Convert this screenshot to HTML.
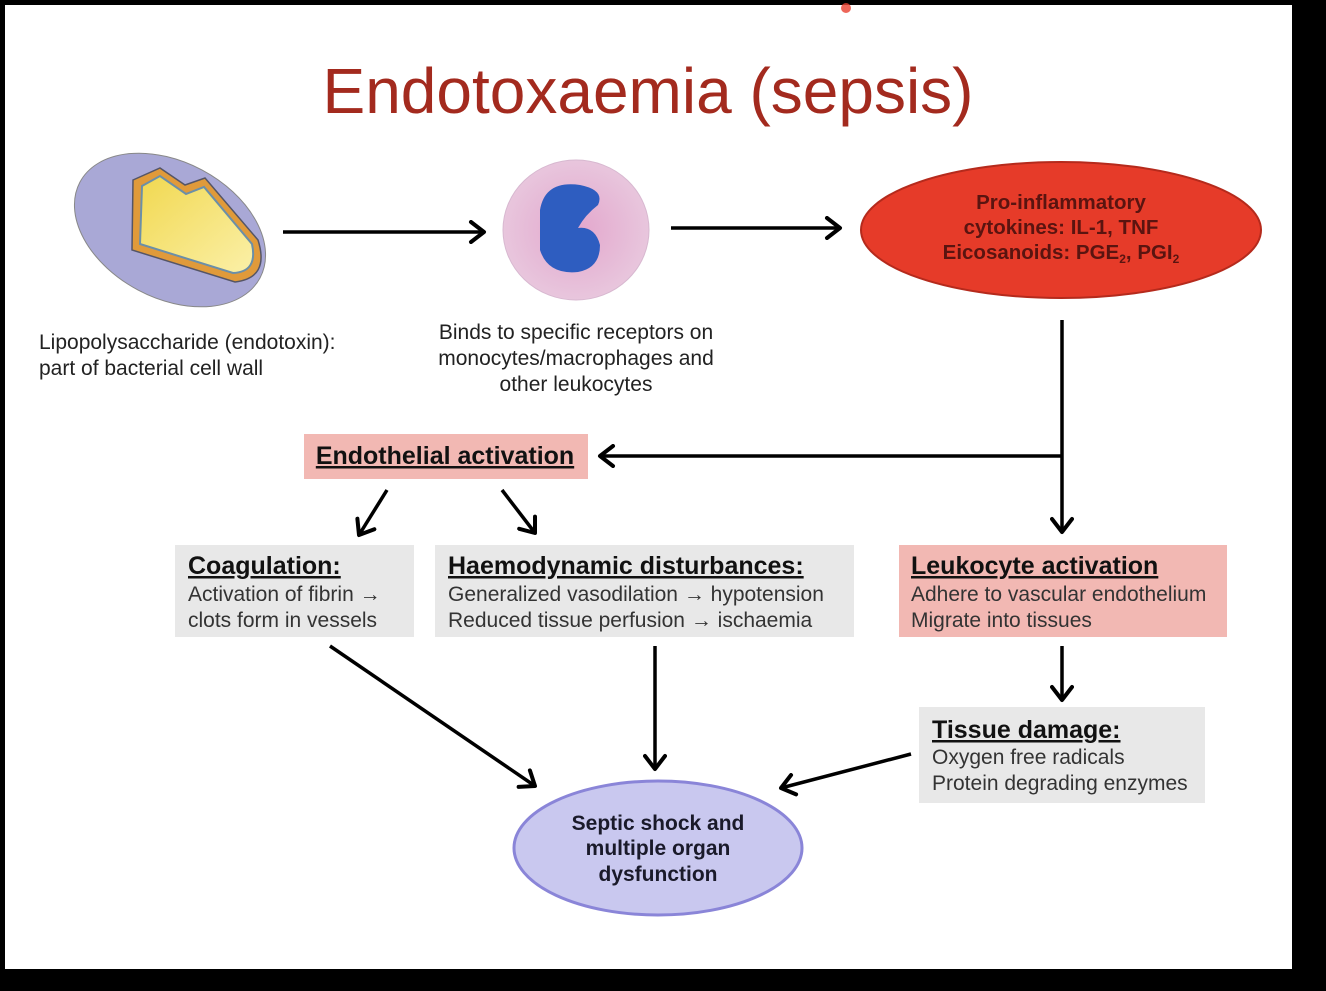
<!DOCTYPE html>
<html><head><meta charset="utf-8"><style>
body{margin:0;background:#000;width:1326px;height:986px;overflow:hidden;font-family:"Liberation Sans",sans-serif}
</style></head><body>
<svg width="1326" height="986" viewBox="0 0 1326 986" xmlns="http://www.w3.org/2000/svg" font-family="Liberation Sans, sans-serif">
<defs>
<marker id="ah" markerWidth="20" markerHeight="24" refX="16" refY="12" orient="auto" markerUnits="userSpaceOnUse" viewBox="0 0 20 24"><path d="M3,2 L16,12 L3,22" fill="none" stroke="#000" stroke-width="4" stroke-linecap="round" stroke-linejoin="round"/></marker>
<radialGradient id="cell" cx="50%" cy="50%" r="50%"><stop offset="0" stop-color="#e3a6cc"/><stop offset="1" stop-color="#e8c6dd"/></radialGradient>
<linearGradient id="yel" x1="0" y1="0" x2="1" y2="1"><stop offset="0" stop-color="#f1d850"/><stop offset="1" stop-color="#fbf0a8"/></linearGradient>
</defs>
<rect x="5" y="5" width="1287" height="964" fill="#fff"/>
<circle cx="846" cy="8" r="5" fill="#e84030" opacity="0.8"/>
<text x="648" y="113" font-size="64" fill="#a32a1e" text-anchor="middle">Endotoxaemia (sepsis)</text>

<g>
<ellipse cx="170" cy="230" rx="102" ry="68" transform="rotate(28 170 230)" fill="#a9a8d6" stroke="#888" stroke-width="1"/>
<path d="M133,180 L160,168 L185,185 L205,178 L258,240 Q270,278 235,282 L132,250 Z" fill="#e09a3a" stroke="#556" stroke-width="1.5"/>
<path d="M142,186 L160,176 L186,194 L204,187 L252,244 Q258,272 233,273 L140,244 Z" fill="url(#yel)" stroke="#6b8fa8" stroke-width="2"/>
</g>
<g>
<ellipse cx="576" cy="230" rx="73" ry="70" fill="url(#cell)" stroke="#d8b8d0"/>
<path d="M540,210 Q545,180 580,185 Q605,190 598,205 Q585,215 578,228 Q595,226 600,245 Q600,268 578,272 Q548,275 540,250 Z" fill="#2e5dc0"/>
</g>

<line x1="283" y1="232" x2="484" y2="232" stroke="#000" stroke-width="3.5" marker-end="url(#ah)"/>
<line x1="671" y1="228" x2="840" y2="228" stroke="#000" stroke-width="3.5" marker-end="url(#ah)"/>

<g>
<ellipse cx="1061" cy="230" rx="200" ry="68" fill="#e63b29" stroke="#b52a1c" stroke-width="2"/>
<text x="1061" y="209" font-size="20.5" font-weight="bold" fill="#5a1410" text-anchor="middle">Pro-inflammatory</text>
<text x="1061" y="234" font-size="20.5" font-weight="bold" fill="#5a1410" text-anchor="middle">cytokines: IL-1, TNF</text>
<text x="1061" y="259" font-size="20.5" font-weight="bold" fill="#5a1410" text-anchor="middle">Eicosanoids: PGE<tspan font-size="12" dy="4">2</tspan><tspan dy="-4">, PGI</tspan><tspan font-size="12" dy="4">2</tspan></text>
</g>

<text font-size="21" fill="#222"><tspan x="39" y="349">Lipopolysaccharide (endotoxin):</tspan><tspan x="39" y="375">part of bacterial cell wall</tspan></text>
<text font-size="21" fill="#222" text-anchor="middle"><tspan x="576" y="339">Binds to specific receptors on</tspan><tspan x="576" y="365">monocytes/macrophages and</tspan><tspan x="576" y="391">other leukocytes</tspan></text>

<line x1="1062" y1="320" x2="1062" y2="532" stroke="#000" stroke-width="3.5" marker-end="url(#ah)"/>
<line x1="1062" y1="456" x2="600" y2="456" stroke="#000" stroke-width="3.5" marker-end="url(#ah)"/>

<g>
<rect x="304" y="434" width="284" height="45" fill="#f2b8b3"/>
<text x="445" y="464" font-size="25" font-weight="bold" fill="#111" text-anchor="middle" text-decoration="underline">Endothelial activation</text>
</g>
<line x1="387" y1="490" x2="359" y2="535" stroke="#000" stroke-width="3.5" marker-end="url(#ah)"/>
<line x1="502" y1="490" x2="535" y2="533" stroke="#000" stroke-width="3.5" marker-end="url(#ah)"/>

<g>
<rect x="175" y="545" width="239" height="92" fill="#e8e8e8"/>
<text x="188" y="574" font-size="25" font-weight="bold" fill="#111" text-decoration="underline">Coagulation:</text>
<text x="188" y="601" font-size="21" fill="#333">Activation of fibrin <tspan font-weight="bold">→</tspan></text>
<text x="188" y="627" font-size="21" fill="#333">clots form in vessels</text>
</g>
<g>
<rect x="435" y="545" width="419" height="92" fill="#e8e8e8"/>
<text x="448" y="574" font-size="25" font-weight="bold" fill="#111" text-decoration="underline">Haemodynamic disturbances:</text>
<text x="448" y="601" font-size="21" fill="#333">Generalized vasodilation <tspan font-weight="bold">→</tspan> hypotension</text>
<text x="448" y="627" font-size="21" fill="#333">Reduced tissue perfusion <tspan font-weight="bold">→</tspan> ischaemia</text>
</g>
<g>
<rect x="899" y="545" width="328" height="92" fill="#f2b8b3"/>
<text x="911" y="574" font-size="25" font-weight="bold" fill="#111" text-decoration="underline">Leukocyte activation</text>
<text x="911" y="601" font-size="21" fill="#333">Adhere to vascular endothelium</text>
<text x="911" y="627" font-size="21" fill="#333">Migrate into tissues</text>
</g>

<line x1="330" y1="646" x2="535" y2="786" stroke="#000" stroke-width="3.5" marker-end="url(#ah)"/>
<line x1="655" y1="646" x2="655" y2="769" stroke="#000" stroke-width="3.5" marker-end="url(#ah)"/>
<line x1="1062" y1="646" x2="1062" y2="700" stroke="#000" stroke-width="3.5" marker-end="url(#ah)"/>

<g>
<rect x="919" y="707" width="286" height="96" fill="#e8e8e8"/>
<text x="932" y="738" font-size="25" font-weight="bold" fill="#111" text-decoration="underline">Tissue damage:</text>
<text x="932" y="764" font-size="21" fill="#333">Oxygen free radicals</text>
<text x="932" y="790" font-size="21" fill="#333">Protein degrading enzymes</text>
</g>
<line x1="911" y1="754" x2="781" y2="788" stroke="#000" stroke-width="3.5" marker-end="url(#ah)"/>

<g>
<ellipse cx="658" cy="848" rx="144" ry="67" fill="#c9c8ef" stroke="#8a85d8" stroke-width="3"/>
<text x="658" y="830" font-size="21" font-weight="bold" fill="#1a1a2a" text-anchor="middle">Septic shock and</text>
<text x="658" y="855" font-size="21" font-weight="bold" fill="#1a1a2a" text-anchor="middle">multiple organ</text>
<text x="658" y="881" font-size="21" font-weight="bold" fill="#1a1a2a" text-anchor="middle">dysfunction</text>
</g>
</svg>
</body></html>
